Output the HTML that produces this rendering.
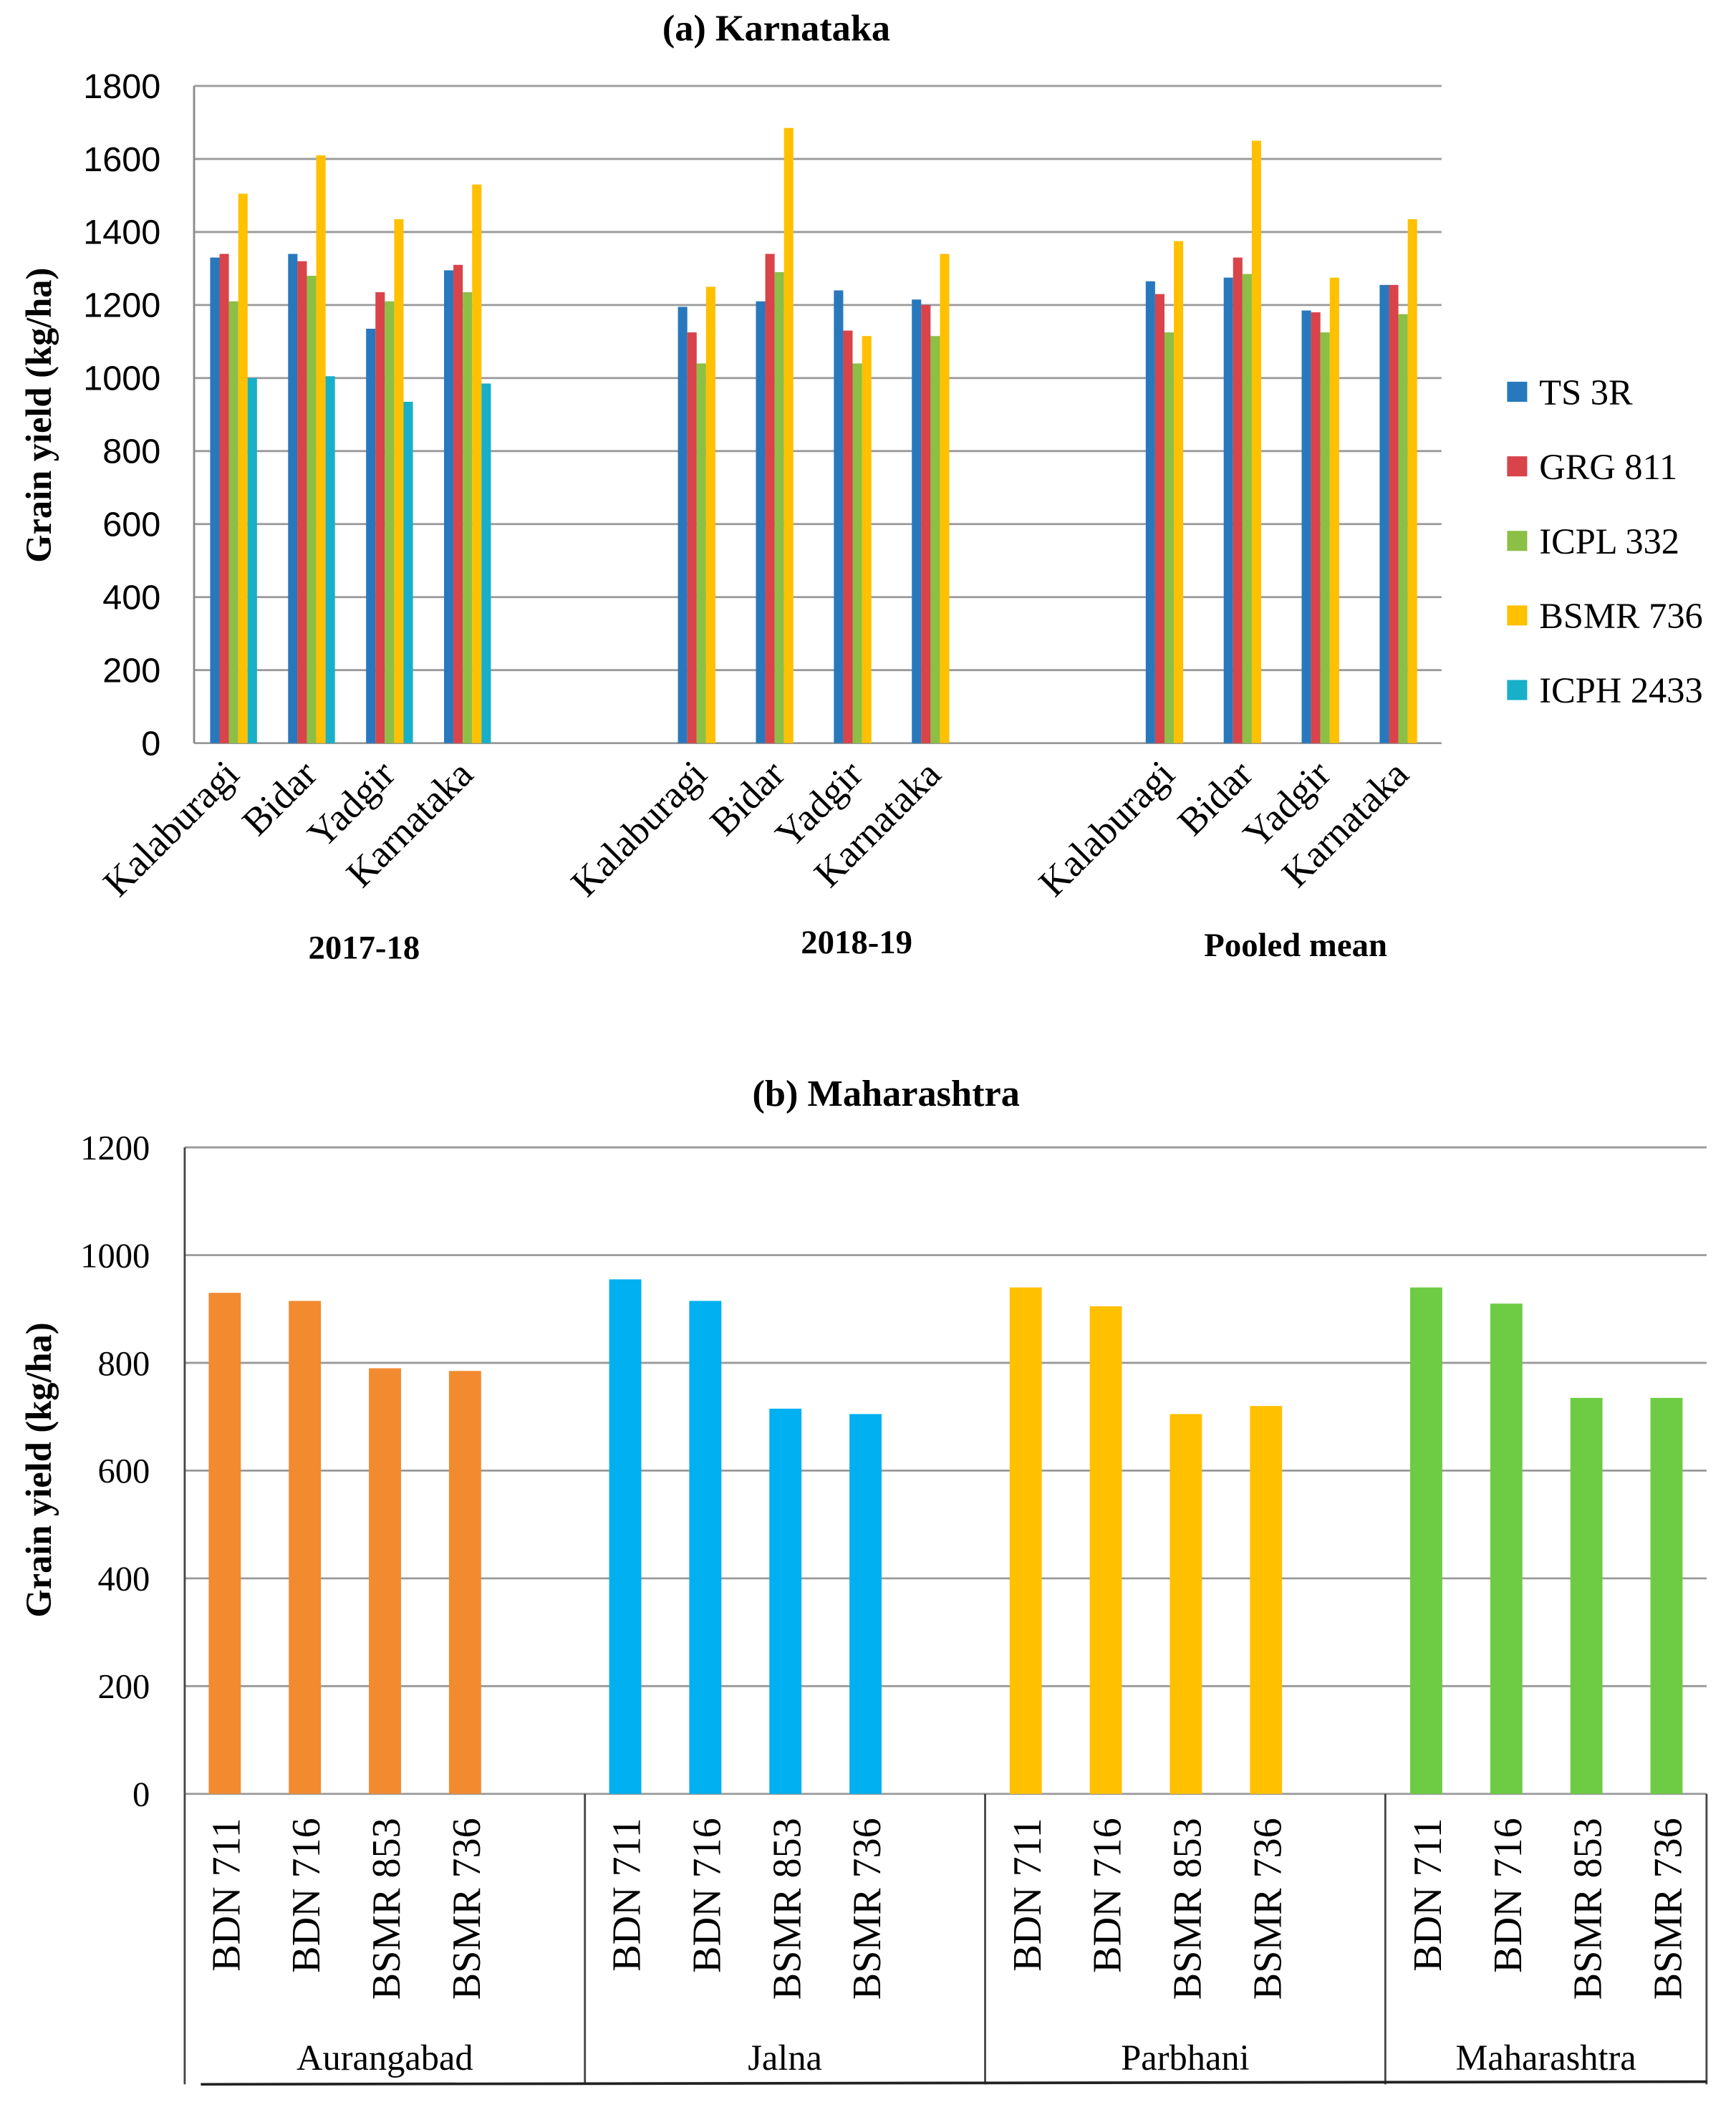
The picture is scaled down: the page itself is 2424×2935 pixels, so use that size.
<!DOCTYPE html>
<html><head><meta charset="utf-8"><style>
html,body{margin:0;padding:0;background:#fff;}
svg{display:block;}
.s{font-family:"Liberation Sans",sans-serif;}
.f{font-family:"Liberation Serif",serif;}
</style></head><body>
<svg width="2424" height="2935" viewBox="0 0 1297 1570" xmlns="http://www.w3.org/2000/svg">
<rect width="1297" height="1570" fill="#fff"/>
<text x="580" y="30" text-anchor="middle" class="f" font-weight="bold" font-size="28">(a)  Karnataka</text>
<g id="a"></g>
<text x="662" y="826" text-anchor="middle" class="f" font-weight="bold" font-size="28">(b) Maharashtra</text>
<g id="b"></g>
</svg>
<script>
const NS="http://www.w3.org/2000/svg";
function el(p,t,a,txt){const e=document.createElementNS(NS,t);for(const k in a)e.setAttribute(k,a[k]);if(txt!==undefined)e.textContent=txt;p.appendChild(e);return e;}
const A=document.getElementById('a');
const y0=555,per=(555-64)/1800,x0=145,x1=1077,sw=(x1-x0)/16;
for(let v=0;v<=1800;v+=200){const y=y0-v*per;
 el(A,'line',{x1:x0,x2:x1,y1:y,y2:y,stroke:'#999','stroke-width':1.5});
 el(A,'text',{x:120,y:y+9,'text-anchor':'end','font-size':26,class:'s'},v);}
el(A,'line',{x1:x0,x2:x0,y1:64,y2:y0,stroke:'#888','stroke-width':1.5});
const ca=['#2878bd','#d9434a','#8cbf46','#ffc000','#17b0c8'];
const da=[[1330,1340,1210,1505,1000],[1340,1320,1280,1610,1005],[1135,1235,1210,1435,935],[1295,1310,1235,1530,985],
[1195,1125,1040,1250],[1210,1340,1290,1685],[1240,1130,1040,1115],[1215,1200,1115,1340],
[1265,1230,1125,1375],[1275,1330,1285,1650],[1185,1180,1125,1275],[1255,1255,1175,1435]];
const slots=[0,1,2,3,6,7,8,9,12,13,14,15];
const names=['Kalaburagi','Bidar','Yadgir','Karnataka'];
da.forEach((d,i)=>{const sx=x0+slots[i]*sw+12;
 d.forEach((v,j)=>el(A,'rect',{x:sx+j*7,y:y0-v*per,width:7,height:v*per,fill:ca[j]}));
 const cx=x0+slots[i]*sw+sw/2+6;
 el(A,'text',{x:0,y:0,'text-anchor':'end','font-size':29,class:'f',transform:`translate(${cx},${580}) rotate(-45)`},names[i%4]);
});
el(A,'text',{x:272,y:716,'text-anchor':'middle','font-size':25,'font-weight':'bold',class:'f'},'2017-18');
el(A,'text',{x:640,y:712,'text-anchor':'middle','font-size':25,'font-weight':'bold',class:'f'},'2018-19');
el(A,'text',{x:968,y:714,'text-anchor':'middle','font-size':25,'font-weight':'bold',class:'f'},'Pooled mean');
el(A,'text',{x:0,y:0,'text-anchor':'middle','font-size':27,'font-weight':'bold',class:'f',transform:'translate(38,310) rotate(-90)'},'Grain yield (kg/ha)');
['TS 3R','GRG 811','ICPL 332','BSMR 736','ICPH 2433'].forEach((n,i)=>{const y=293+i*55.7;
 el(A,'rect',{x:1126,y:y-8,width:15,height:15,fill:ca[i]});
 el(A,'text',{x:1150,y:y+9,'font-size':27,class:'f'},n);});
const B=document.getElementById('b');
const b0=1340,bp=(1340-857)/1200,bx0=138,bx1=1275,bs=(bx1-bx0)/19;
for(let v=0;v<=1200;v+=200){const y=b0-v*bp;
 el(B,'line',{x1:bx0,x2:bx1,y1:y,y2:y,stroke:'#999','stroke-width':1.5});
 el(B,'text',{x:112,y:y+9,'text-anchor':'end','font-size':26,class:'f'},v);}
const cb=['#f28a30','#00b0f0','#ffc000','#6dcc43'];
const db=[[930,915,790,785],[955,915,715,705],[940,905,705,720],[940,910,735,735]];
const bn=['BDN 711','BDN 716','BSMR 853','BSMR 736'];
const gn=['Aurangabad','Jalna','Parbhani','Maharashtra'];
db.forEach((d,g)=>{d.forEach((v,j)=>{const cx=bx0+(g*5+j)*bs+bs/2;
 el(B,'rect',{x:cx-12,y:b0-v*bp,width:24,height:v*bp,fill:cb[g]});
 el(B,'text',{x:0,y:0,'text-anchor':'end','font-size':30,class:'f',transform:`translate(${cx+11},1358) rotate(-90)`},bn[j]);});
 const gx=bx0+g*299, gw=g<3?299:240;
 el(B,'text',{x:gx+gw/2,y:1546,'text-anchor':'middle','font-size':27,class:'f'},gn[g]);});
[138,437,736,1035,1275].forEach(x=>el(B,'line',{x1:x,x2:x,y1:b0,y2:1557,stroke:'#444','stroke-width':1.5}));
el(B,'line',{x1:138,x2:bx0,y1:857,y2:b0,stroke:'#444','stroke-width':1.5});
el(B,'line',{x1:150,x2:1275,y1:1557,y2:1555,stroke:'#222','stroke-width':2});
el(B,'text',{x:0,y:0,'text-anchor':'middle','font-size':27,'font-weight':'bold',class:'f',transform:'translate(38,1098) rotate(-90)'},'Grain yield (kg/ha)');
</script>
</body></html>
